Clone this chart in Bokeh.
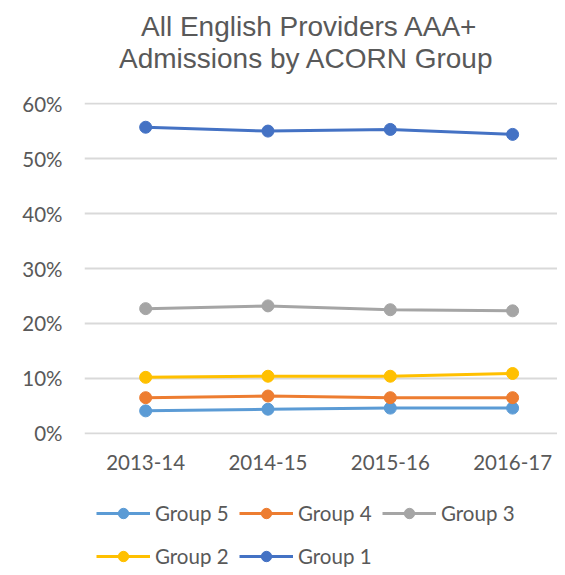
from bokeh.plotting import figure
from bokeh.layouts import column
from bokeh.models import (Range1d, FixedTicker, NumeralTickFormatter, Legend, LegendItem, Label)
from bokeh.embed import file_html
from bokeh.resources import INLINE

years = ["2013-14", "2014-15", "2015-16", "2016-17"]
group_names = ["Group 5", "Group 4", "Group 3", "Group 2", "Group 1"]
group5 = [0.041, 0.044, 0.046, 0.046]
group4 = [0.065, 0.068, 0.065, 0.065]
group3 = [0.227, 0.232, 0.225, 0.223]
group2 = [0.102, 0.104, 0.104, 0.109]
group1 = [0.557, 0.550, 0.553, 0.544]
colors = ["#5B9BD5", "#ED7D31", "#A5A5A5", "#FFC000", "#4472C4"]
y_ticks = [0, 0.1, 0.2, 0.3, 0.4, 0.5, 0.6]
title_lines = ["All English Providers AAA+", "Admissions by ACORN Group"]

series = [group5, group4, group3, group2, group1]
xs = list(range(len(years)))
W = 557
GREY = "#595959"

def bare(fig):
    fig.axis.visible = False
    fig.grid.visible = False
    fig.outline_line_color = None
    fig.background_fill_color = "white"
    fig.border_fill_color = "white"

# ---- title strip (frame is aligned with the chart frame: x 84..557) ----
pt = figure(width=W, height=80, output_backend="svg", toolbar_location=None,
            x_range=Range1d(84, W), y_range=Range1d(0, 80),
            min_border_left=0, min_border_right=0, min_border_top=0, min_border_bottom=0)
pt.title = None
bare(pt)
for txt, xc, yb in zip(title_lines, [309, 306], [54, 22]):
    pt.add_layout(Label(x=xc, y=yb, text=txt, text_align="center", text_baseline="alphabetic",
                        text_font="Liberation Sans", text_font_size="28px", text_color=GREY))

# ---- main chart ----
p = figure(width=W, height=405, output_backend="svg", toolbar_location=None,
           x_range=Range1d(-0.5, 3.367), y_range=Range1d(-0.002, 0.602),
           min_border_left=84, min_border_right=0, min_border_top=22, min_border_bottom=51)
p.title = None
p.outline_line_color = None
p.background_fill_color = "white"
p.border_fill_color = "white"

p.xgrid.visible = False
p.ygrid.grid_line_color = "#d9d9d9"
p.ygrid.grid_line_width = 2
p.ygrid.ticker = FixedTicker(ticks=y_ticks)

p.yaxis.ticker = FixedTicker(ticks=y_ticks)
p.yaxis.formatter = NumeralTickFormatter(format="0%")
p.xaxis.ticker = FixedTicker(ticks=xs)
p.xaxis.major_label_overrides = {i: y for i, y in enumerate(years)}
for ax in (p.xaxis, p.yaxis):
    ax.axis_line_color = None
    ax.major_tick_line_color = None
    ax.minor_tick_line_color = None
    ax.major_tick_out = 0
    ax.major_tick_in = 0
    ax.major_label_text_font = "Lato"
    ax.major_label_text_font_size = "20.5px"
    ax.major_label_text_color = GREY
p.yaxis.major_label_standoff = 22
p.xaxis.major_label_standoff = 20

for vals, c in zip(series, colors):
    p.line(xs, vals, line_color=c, line_width=3)
    p.scatter(xs, vals, size=12, fill_color=c, line_color=c)

# ---- legend strip ----
pl = figure(width=W, height=82, output_backend="svg", toolbar_location=None,
            x_range=Range1d(-20, -10), y_range=Range1d(-20, -10),
            min_border_left=0, min_border_right=0, min_border_top=0, min_border_bottom=0)
pl.title = None
bare(pl)
items = []
for name, vals, c in zip(group_names, series, colors):
    lr = pl.line(xs, vals, line_color=c, line_width=3)
    sr = pl.scatter(xs, vals, size=12, fill_color=c, line_color=c)
    items.append(LegendItem(label=name, renderers=[lr, sr]))

def make_legend(its, loc):
    lg = Legend(items=its, orientation="horizontal", location=loc,
                glyph_width=54, glyph_height=26, label_height=26, label_width=76,
                label_standoff=5, spacing=8, padding=0, margin=0,
                border_line_color=None, background_fill_alpha=0,
                label_text_font="Lato", label_text_font_size="20.5px",
                label_text_color=GREY)
    pl.add_layout(lg, "center")

make_legend(items[:3], (12, 41))
make_legend(items[3:], (12, -2))

layout = column(pt, p, pl, spacing=0)
open("out.html", "w").write(file_html(layout, INLINE))
